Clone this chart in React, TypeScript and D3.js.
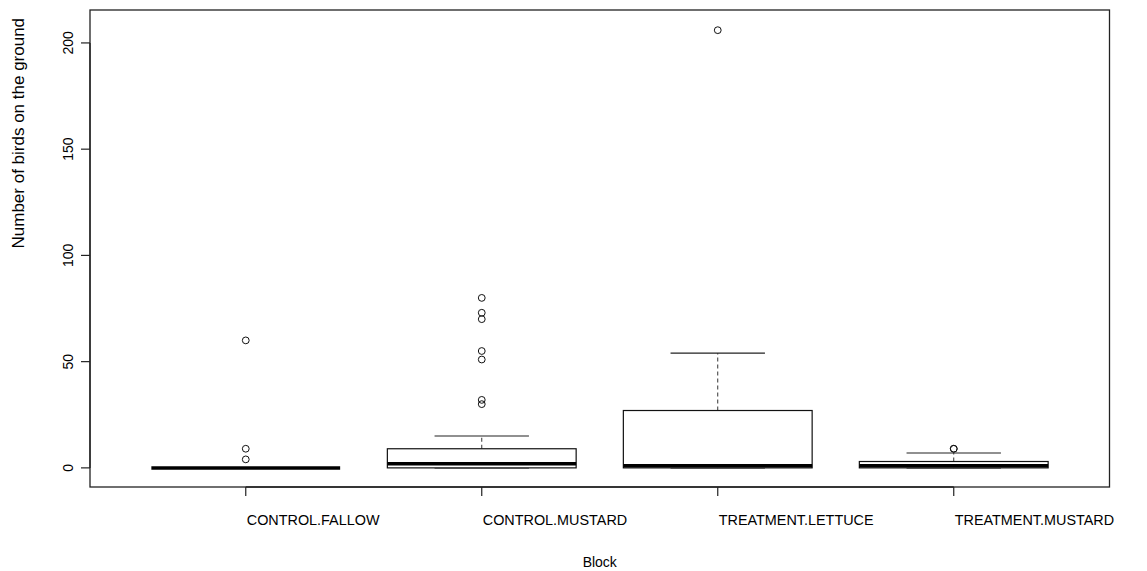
import React from "react";
import * as d3 from "d3";

// Boxplot summary per block (counts of birds on the ground)
const categories = ["CONTROL.FALLOW", "CONTROL.MUSTARD", "TREATMENT.LETTUCE", "TREATMENT.MUSTARD"];
const lowerWhisker = [0, 0, 0, 0];
const q1 = [0, 0, 0, 0];
const medians = [0, 2, 1, 1];
const q3 = [0, 9, 27, 3];
const upperWhisker = [0, 15, 54, 7];
const outliers: number[][] = [
  [60, 9, 4],
  [80, 73, 70, 55, 51, 32, 30],
  [206],
  [9, 9],
];
const yTicks = [0, 50, 100, 150, 200];

const W = 1147;
const H = 571;
const plot = { left: 90, right: 1109.5, top: 10, bottom: 487 };
const font = "'Liberation Sans', Arial, Helvetica, sans-serif";

export default function App() {
  const x = d3
    .scaleLinear()
    .domain([0.5 - 0.16, categories.length + 0.5 + 0.16])
    .range([plot.left, plot.right]);
  const y = d3.scaleLinear().domain([-9, 215.5]).range([plot.bottom, plot.top]);
  const unit = x(2) - x(1);
  const boxHalf = (unit * 0.8) / 2;
  const capHalf = boxHalf / 2;

  return (
    <div style={{ position: "fixed", left: 0, top: 0, width: W, height: H, background: "#fff" }}>
      <svg width={W} height={H} style={{ display: "block" }} fontFamily={font}>
        <rect x={0} y={0} width={W} height={H} fill="#fff" />
        {categories.map((c, i) => {
          const cx = x(i + 1);
          const yQ1 = y(q1[i]);
          const yQ3 = y(q3[i]);
          return (
            <g key={c}>
              {/* whiskers */}
              <line x1={cx} x2={cx} y1={yQ3} y2={y(upperWhisker[i])} stroke="#333" strokeWidth={1} strokeDasharray="4,3" />
              <line x1={cx} x2={cx} y1={yQ1} y2={y(lowerWhisker[i])} stroke="#333" strokeWidth={1} strokeDasharray="4,3" />
              <line x1={cx - capHalf} x2={cx + capHalf} y1={y(upperWhisker[i])} y2={y(upperWhisker[i])} stroke="#222" strokeWidth={1.2} />
              <line x1={cx - capHalf} x2={cx + capHalf} y1={y(lowerWhisker[i])} y2={y(lowerWhisker[i])} stroke="#222" strokeWidth={1.2} />
              {/* box */}
              <rect
                x={cx - boxHalf}
                y={Math.min(yQ1, yQ3)}
                width={boxHalf * 2}
                height={Math.abs(yQ1 - yQ3)}
                fill="#fff"
                stroke="#111"
                strokeWidth={1.2}
              />
              {/* median */}
              <line x1={cx - boxHalf} x2={cx + boxHalf} y1={y(medians[i])} y2={y(medians[i])} stroke="#000" strokeWidth={3.5} />
              {/* outliers */}
              {outliers[i].map((v, j) => (
                <circle key={j} cx={cx} cy={y(v)} r={3.4} fill="none" stroke="#111" strokeWidth={1} />
              ))}
            </g>
          );
        })}

        {/* plot frame */}
        <rect
          x={plot.left}
          y={plot.top}
          width={plot.right - plot.left}
          height={plot.bottom - plot.top}
          fill="none"
          stroke="#222"
          strokeWidth={1.3}
        />

        {/* x axis */}
        <line x1={x(1)} x2={x(categories.length)} y1={plot.bottom} y2={plot.bottom} stroke="#222" strokeWidth={1.3} />
        {categories.map((c, i) => (
          <g key={c}>
            <line x1={x(i + 1)} x2={x(i + 1)} y1={plot.bottom} y2={plot.bottom + 9} stroke="#222" strokeWidth={1.2} />
            <text x={x(i + 1) + 1} y={525} fontSize={14.4} fill="#000" textAnchor="start">
              {c}
            </text>
          </g>
        ))}

        {/* y axis */}
        <line x1={plot.left} x2={plot.left} y1={y(yTicks[0])} y2={y(yTicks[yTicks.length - 1])} stroke="#222" strokeWidth={1.3} />
        {yTicks.map((t) => (
          <g key={t}>
            <line x1={plot.left - 9} x2={plot.left} y1={y(t)} y2={y(t)} stroke="#222" strokeWidth={1.2} />
            <text transform={`translate(73,${y(t)}) rotate(-90)`} fontSize={14} fill="#000" textAnchor="middle">
              {t}
            </text>
          </g>
        ))}

        {/* axis titles */}
        <text x={(plot.left + plot.right) / 2} y={567} fontSize={14} fill="#000" textAnchor="middle">
          Block
        </text>
        <text
          transform={`translate(24,${(plot.top + plot.bottom) / 2}) rotate(-90)`}
          fontSize={17}
          fill="#000"
          textAnchor="start"
        >
          Number of birds on the ground
        </text>
      </svg>
    </div>
  );
}
